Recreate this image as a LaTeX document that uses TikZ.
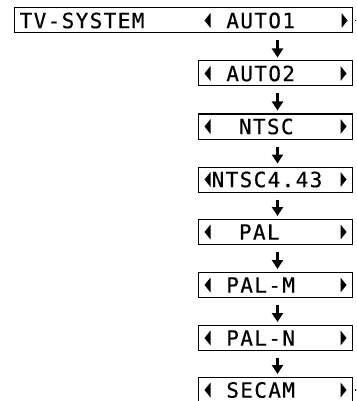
\documentclass[tikz,border=0pt]{standalone}
\usepackage{fontspec}
\newfontfamily\osdfam[LetterSpace=6.5,FakeBold=0.5]{DejaVu Sans Mono}
\newcommand\osd{\osdfam\fontsize{21pt}{22pt}\selectfont}
\newcommand\osdsp{\phantom{A}}
\usetikzlibrary{arrows.meta}
\tikzset{
  box/.style={draw, line width=1pt, rectangle, minimum height=25pt, inner sep=0pt},
  lowbox/.style={box, minimum width=154pt},
  lbl/.style={font=\osd, inner sep=0pt, anchor=west, text height=15.3pt, text depth=0pt},
  flow/.style={-{Triangle[width=11pt,length=9pt]}, line width=3pt, shorten <=7pt, shorten >=3pt},
  stub/.style={line width=1.3pt, shorten <=2.5pt}
}
\newcommand\ltri[1]{\fill (#1) -- ++(6pt,7.5pt) -- ++(0pt,-15pt) -- cycle;}
\newcommand\rtri[1]{\fill (#1) -- ++(-6pt,7.5pt) -- ++(0pt,-15pt) -- cycle;}
\begin{document}
\begin{tikzpicture}[x=1pt,y=-1pt]
\useasboundingbox (0,0) rectangle (356,401);
\clip (0,0) rectangle (356,401);
% boxes
\node[box, minimum width=338pt] (r0) at (183,20.5) {};
\node[lowbox] (r1) at (275,73.5) {};
\node[lowbox] (r2) at (275,126.5) {};
\node[lowbox] (r3) at (275,179.5) {};
\node[lowbox] (r4) at (275,232) {};
\node[lowbox] (r5) at (275,285) {};
\node[lowbox] (r6) at (275,338) {};
\node[lowbox] (r7) at (275,390) {};
% labels
\node[lbl] (t0) at ([xshift=6pt]r0.west) {TV-SYSTEM};
\node[lbl] (t0b) at ([xshift=200pt]r0.west) {\osdsp AUTO1};
\node[lbl] (t1) at ([xshift=16pt]r1.west) {\osdsp AUTO2};
\node[lbl] (t2) at ([xshift=16pt]r2.west) {\osdsp\osdsp NTSC};
\node[lbl] (t3) at ([xshift=14pt]r3.west) {NTSC4.43};
\node[lbl] (t4) at ([xshift=16pt]r4.west) {\osdsp\osdsp PAL};
\node[lbl] (t5) at ([xshift=16pt]r5.west) {\osdsp PAL-M};
\node[lbl] (t6) at ([xshift=16pt]r6.west) {\osdsp PAL-N};
\node[lbl] (t7) at ([xshift=16pt]r7.west) {\osdsp SECAM};
% triangles
\ltri{[xshift=191pt]r0.west}
\rtri{[xshift=-5pt]r0.east}
\foreach \r in {r1,r2,r3,r4,r5,r6,r7}{
  \ltri{[xshift=7pt]\r.west}
  \rtri{[xshift=-6pt]\r.east}
}
% arrows
\coordinate (ax) at (277.5,0);
\draw[flow] (r0.south -| ax) -- (r1.north -| ax);
\draw[flow] (r1.south -| ax) -- (r2.north -| ax);
\draw[flow] (r2.south -| ax) -- (r3.north -| ax);
\draw[flow] (r3.south -| ax) -- (r4.north -| ax);
\draw[flow] (r4.south -| ax) -- (r5.north -| ax);
\draw[flow] (r5.south -| ax) -- (r6.north -| ax);
\draw[flow] (r6.south -| ax) -- (r7.north -| ax);
% stubs
\coordinate (e0) at (357,20.5);
\coordinate (e7) at (357,390);
\draw[stub] (r0.east) -- (e0);
\draw[stub] (r7.east) -- (e7);
\end{tikzpicture}
\end{document}
